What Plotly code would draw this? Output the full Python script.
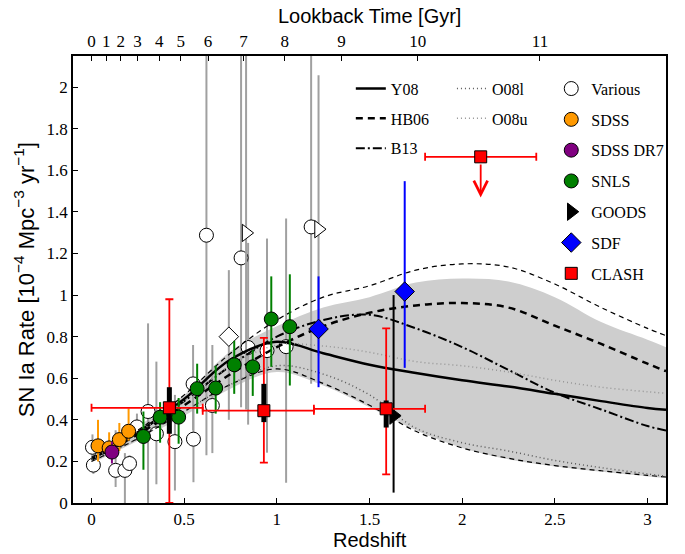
import plotly.graph_objects as go

# ---- model curves ----
model_z = [0, 0.25, 0.5, 0.75, 1.0, 1.25, 1.5, 1.75, 2.0, 2.25, 2.5, 2.75, 3.0, 3.1]
band_lo = [0.19, 0.30, 0.42, 0.55, 0.63, 0.565, 0.46, 0.35, 0.265, 0.21, 0.175, 0.15, 0.128, 0.12]
band_hi = [0.24, 0.37, 0.52, 0.73, 0.85, 0.94, 0.99, 1.06, 1.08, 1.065, 0.99, 0.87, 0.785, 0.749]
y08 = [0.21, 0.34, 0.50, 0.69, 0.775, 0.72, 0.665, 0.625, 0.59, 0.56, 0.525, 0.49, 0.457, 0.448]
hb06 = [0.21, 0.33, 0.47, 0.62, 0.75, 0.85, 0.915, 0.95, 0.962, 0.94, 0.853, 0.765, 0.67, 0.634]
hb06_up = [0.22, 0.35, 0.52, 0.72, 0.88, 0.99, 1.045, 1.12, 1.15, 1.135, 1.053, 0.94, 0.84, 0.805]
hb06_low = [0.20, 0.31, 0.44, 0.57, 0.645, 0.575, 0.47, 0.345, 0.265, 0.215, 0.18, 0.155, 0.133, 0.125]
b13 = [0.21, 0.34, 0.49, 0.66, 0.80, 0.88, 0.905, 0.84, 0.75, 0.64, 0.53, 0.45, 0.37, 0.349]
o08l = [0.20, 0.31, 0.44, 0.57, 0.66, 0.62, 0.52, 0.36, 0.29, 0.25, 0.205, 0.17, 0.14, 0.128]
o08u = [0.21, 0.34, 0.49, 0.66, 0.76, 0.755, 0.725, 0.68, 0.66, 0.63, 0.59, 0.557, 0.535, 0.528]

# ---- measurements: z, rate, upper / lower bound ----
various_z = [0.005, 0.01, 0.13, 0.18, 0.205, 0.245, 0.305, 0.35, 0.45, 0.55, 0.548, 0.652, 0.62, 0.807, 0.845, 0.947, 1.05, 1.185]
various_r = [0.268, 0.182, 0.157, 0.157, 0.19, 0.366, 0.44, 0.333, 0.295, 0.307, 0.573, 0.469, 1.288, 1.179, 0.748, 0.733, 0.752, 1.328]
various_hi = [0.33, 0.23, 0.35, 0.24, 0.23, 0.43, 0.864, 0.68, 0.52, 0.45, 0.76, 0.76, 2.6, 2.6, 1.251, 1.272, 1.368, 2.6]
various_lo = [0.21, 0.14, 0.077, 0.0, 0.15, 0.30, 0.0, 0.09, 0.06, 0.10, 0.35, 0.24, 0.23, 0.46, 0.377, 0.242, 0.098, 0.573]
vtri_z = [0.834, 1.225]
vtri_r = [1.299, 1.317]
vtri_hi = [2.6, 2.058]
vtri_lo = [0.45, 0.71]
vdia_z = [0.741]
vdia_r = [0.80]
vdia_hi = [1.12]
vdia_lo = [0.40]

sdss_z = [0.035, 0.095, 0.15, 0.20]
sdss_r = [0.275, 0.265, 0.305, 0.345]
sdss_hi = [0.40, 0.34, 0.385, 0.455]
sdss_lo = [0.20, 0.22, 0.25, 0.30]

dr7_z = [0.11]
dr7_r = [0.245]
dr7_hi = [0.295]
dr7_lo = [0.19]

snls_z = [0.28, 0.37, 0.47, 0.57, 0.67, 0.77, 0.87, 0.97, 1.07]
snls_r = [0.32, 0.413, 0.413, 0.55, 0.553, 0.665, 0.655, 0.885, 0.848]
snls_hi = [0.44, 0.485, 0.505, 0.67, 0.66, 0.78, 0.735, 1.09, 1.10]
snls_lo = [0.16, 0.29, 0.285, 0.43, 0.43, 0.525, 0.515, 0.655, 0.565]

goods_z = [1.63]
goods_r = [0.42]
goods_hi = [1.0]
goods_lo = [0.05]

sdf_z = [1.225, 1.69]
sdf_r = [0.837, 1.017]
sdf_hi = [1.09, 1.548]
sdf_lo = [0.557, 0.65]

clash_z = [0.42, 0.93, 1.59]
clash_r = [0.458, 0.444, 0.453]
clash_zlo = [0.0, 0.6, 1.2]
clash_zhi = [0.6, 1.2, 1.8]
clash_hi = [0.98, 0.794, 0.84]
clash_lo = [0.0, 0.194, 0.138]
clash_sys_hi = [0.557, 0.573, 0.493]
clash_sys_lo = [0.333, 0.389, 0.363]

lim_z = [2.1]
lim_r = [1.665]
lim_zlo = [1.8]
lim_zhi = [2.4]
lim_arrow = [1.47]

lookback_labels = ["0", "1", "2", "3", "4", "5", "6", "7", "8", "9", "10", "11"]
lookback_z = [0.0, 0.08, 0.158, 0.248, 0.365, 0.482, 0.629, 0.82, 1.043, 1.349, 1.76, 2.42]


def up(hi, r):
    return [h - v for h, v in zip(hi, r)]


def down(lo, r):
    return [v - l for l, v in zip(lo, r)]


SERIF = "Liberation Serif, Times New Roman, serif"
SANS = "Liberation Sans, Arial, sans-serif"
GRAY = "rgb(160,160,160)"

fig = go.Figure()

# shaded band
fig.add_trace(go.Scatter(x=model_z, y=band_lo, mode="lines", line=dict(width=0, shape="spline"),
                         showlegend=False, hoverinfo="skip"))
fig.add_trace(go.Scatter(x=model_z, y=band_hi, mode="lines", line=dict(width=0, shape="spline"),
                         fill="tonexty", fillcolor="rgb(206,206,206)", showlegend=False, hoverinfo="skip"))


def err(hi, lo, r, color, th=2):
    return dict(type="data", symmetric=False, array=up(hi, r), arrayminus=down(lo, r),
                color=color, thickness=th, width=0)


open_marker = dict(color="white", line=dict(color="black", width=1))

# various literature points
fig.add_trace(go.Scatter(x=various_z, y=various_r, mode="markers", name="Various",
                         marker=dict(symbol="circle", size=14, **open_marker),
                         error_y=err(various_hi, various_lo, various_r, GRAY),
                         legend="legend3", legendgroup="g1"))
fig.add_trace(go.Scatter(x=vtri_z, y=vtri_r, mode="markers", showlegend=False,
                         marker=dict(symbol="triangle-right", size=15, **open_marker),
                         error_y=err(vtri_hi, vtri_lo, vtri_r, GRAY)))
fig.add_trace(go.Scatter(x=vdia_z, y=vdia_r, mode="markers", showlegend=False,
                         marker=dict(symbol="diamond", size=15, **open_marker),
                         error_y=err(vdia_hi, vdia_lo, vdia_r, GRAY)))

# model curves
curves = [
    ("Y08", y08, dict(color="black", width=2.5, dash="solid"), "legend", "l1"),
    ("HB06", hb06, dict(color="black", width=2.5, dash="7px,5px"), "legend", "l2"),
    ("B13", b13, dict(color="black", width=2, dash="9px,3px,2px,3px"), "legend", "l3"),
    ("O08l", o08l, dict(color="rgb(90,90,90)", width=1.5, dash="1px,3px"), "legend2", "m1"),
    ("O08u", o08u, dict(color="rgb(150,150,150)", width=1.5, dash="1px,3px"), "legend2", "m2"),
]
fig.add_trace(go.Scatter(x=model_z, y=hb06_up, mode="lines", showlegend=False, hoverinfo="skip",
                         line=dict(color="black", width=1.2, dash="5px,4px", shape="spline")))
fig.add_trace(go.Scatter(x=model_z, y=hb06_low, mode="lines", showlegend=False, hoverinfo="skip",
                         line=dict(color="black", width=1.2, dash="5px,4px", shape="spline")))
for name, vals, ln, leg, grp in curves:
    ln = dict(ln, shape="spline")
    fig.add_trace(go.Scatter(x=model_z, y=vals, mode="lines", name=name, line=ln,
                             legend=leg, legendgroup=grp))

# surveys
groups = [
    ("SDSS", sdss_z, sdss_r, sdss_hi, sdss_lo, "circle", 14, "rgb(255,153,0)", "rgb(255,153,0)", "g2"),
    ("SDSS DR7", dr7_z, dr7_r, dr7_hi, dr7_lo, "circle", 14, "rgb(128,0,128)", "rgb(128,0,128)", "g3"),
    ("SNLS", snls_z, snls_r, snls_hi, snls_lo, "circle", 14, "rgb(0,128,0)", "rgb(0,128,0)", "g4"),
    ("GOODS", goods_z, goods_r, goods_hi, goods_lo, "triangle-right", 15, "black", "black", "g5"),
    ("SDF", sdf_z, sdf_r, sdf_hi, sdf_lo, "diamond", 15, "rgb(0,0,255)", "rgb(0,0,255)", "g6"),
]
for name, zz, rr, hi, lo, sym, sz, col, ecol, grp in groups:
    fig.add_trace(go.Scatter(x=zz, y=rr, mode="markers", name=name,
                             marker=dict(symbol=sym, size=sz, color=col, line=dict(color="black", width=1)),
                             error_y=err(hi, lo, rr, ecol),
                             legend="legend3", legendgroup=grp))

# CLASH: statistical errors, systematic errors, then markers
fig.add_trace(go.Scatter(x=clash_z, y=clash_r, mode="markers", showlegend=False,
                         marker=dict(size=1, color="rgba(0,0,0,0)"),
                         error_y=dict(type="data", symmetric=False, array=up(clash_hi, clash_r),
                                      arrayminus=down(clash_lo, clash_r), color="red", thickness=1.8, width=4),
                         error_x=dict(type="data", symmetric=False, array=up(clash_zhi, clash_z),
                                      arrayminus=down(clash_zlo, clash_z), color="red", thickness=1.8, width=4)))
fig.add_trace(go.Scatter(x=clash_z, y=clash_r, mode="markers", showlegend=False,
                         marker=dict(size=1, color="rgba(0,0,0,0)"),
                         error_y=err(clash_sys_hi, clash_sys_lo, clash_r, "black", th=5)))
fig.add_trace(go.Scatter(x=clash_z, y=clash_r, mode="markers", name="CLASH",
                         marker=dict(symbol="square", size=12, color="red", line=dict(color="black", width=1)),
                         legend="legend3", legendgroup="g7"))
fig.add_trace(go.Scatter(x=lim_z, y=lim_r, mode="markers", showlegend=False,
                         marker=dict(symbol="square", size=12, color="red", line=dict(color="black", width=1)),
                         error_x=dict(type="data", symmetric=False, array=up(lim_zhi, lim_z),
                                      arrayminus=down(lim_zlo, lim_z), color="red", thickness=1.8, width=4)))
for zc, rc, ra in zip(lim_z, lim_r, lim_arrow):
    fig.add_annotation(x=zc, y=ra, ax=zc, ay=rc - 0.03, xref="x", yref="y", axref="x", ayref="y",
                       showarrow=True, arrowhead=5, arrowsize=1.5, arrowwidth=1.8, arrowcolor="red", text="")

# invisible trace so the top axis is drawn
fig.add_trace(go.Scatter(x=lookback_z, y=[None] * len(lookback_z), xaxis="x2", mode="markers",
                         showlegend=False, hoverinfo="skip"))

# axis titles placed as paper annotations
title_font = dict(family=SANS, size=20, color="black")
fig.add_annotation(text="Redshift", xref="paper", yref="paper", x=0.5, y=-0.082,
                   xanchor="center", yanchor="middle", showarrow=False, font=title_font)
fig.add_annotation(text="Lookback Time [Gyr]", xref="paper", yref="paper", x=0.5, y=1.09,
                   xanchor="center", yanchor="middle", showarrow=False, font=title_font)
fig.add_annotation(text="SN Ia Rate [10<sup>−4</sup> Mpc<sup>−3</sup> yr<sup>−1</sup>]",
                   xref="paper", yref="paper", x=-0.083, y=0.5, textangle=-90,
                   xanchor="center", yanchor="middle", showarrow=False,
                   font=dict(family=SANS, size=22, color="black"))

tickfont = dict(family=SERIF, size=17, color="black")
legfont = dict(family=SERIF, size=16, color="black")
fig.update_layout(
    width=685, height=554,
    margin=dict(l=73, r=19, t=56, b=51),
    plot_bgcolor="white", paper_bgcolor="white",
    xaxis=dict(range=[-0.1, 3.1], tickvals=[0, 0.5, 1, 1.5, 2, 2.5, 3],
               ticktext=["0", "0.5", "1", "1.5", "2", "2.5", "3"],
               ticks="inside", ticklen=5, tickcolor="black", tickwidth=1,
               showline=True, linecolor="black", linewidth=1.5, mirror=True,
               showgrid=False, zeroline=False, tickfont=tickfont),
    xaxis2=dict(range=[-0.1, 3.1], overlaying="x", side="top", tickvals=lookback_z,
                ticktext=lookback_labels, ticks="inside", ticklen=5, tickcolor="black",
                showline=True, linecolor="black", linewidth=1.5,
                showgrid=False, zeroline=False, tickfont=tickfont),
    yaxis=dict(range=[0, 2.15], dtick=0.2, tick0=0, ticks="inside", ticklen=5, tickcolor="black",
               showline=True, linecolor="black", linewidth=1.5, mirror=True,
               showgrid=False, zeroline=False, tickfont=tickfont),
    legend=dict(x=0.4685, y=0.965, xanchor="left", yanchor="top", bgcolor="rgba(0,0,0,0)",
                font=legfont, traceorder="grouped", tracegroupgap=6),
    legend2=dict(x=0.639, y=0.965, xanchor="left", yanchor="top", bgcolor="rgba(0,0,0,0)",
                 font=legfont, traceorder="grouped", tracegroupgap=6),
    legend3=dict(x=0.8065, y=0.965, xanchor="left", yanchor="top", bgcolor="rgba(0,0,0,0)",
                 font=legfont, traceorder="grouped", tracegroupgap=7),
)

# page body margin would shift the figure; remove it
fig.write_html("out.html", config={"displayModeBar": False},
               post_script="document.body.style.margin='0';document.body.style.overflow='hidden';")
